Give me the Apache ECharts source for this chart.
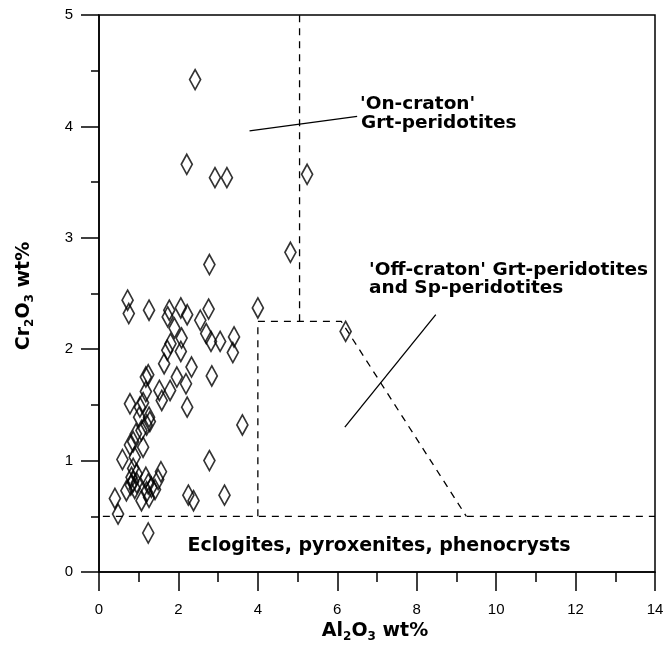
<!DOCTYPE html>
<html>
<head>
<meta charset="utf-8">
<script src="https://cdn.jsdelivr.net/npm/echarts@6/dist/echarts.min.js"></script>
<style>
  html, body { margin: 0; padding: 0; background: #fff; }
  #chart { width: 672px; height: 648px; }
</style>
</head>
<body>
<div id="chart"></div>
<script>
// Al2O3 (x) and Cr2O3 (y), wt%
const al2o3 = [
  2.42, 2.21, 2.92, 3.22, 5.24, 4.82, 2.78, 6.21,
  0.72, 0.75, 1.26, 1.77, 1.73, 2.06, 2.22, 2.76, 4.00, 2.55,
  1.90, 2.70, 2.82, 3.05, 3.40, 3.37, 2.08, 1.80, 1.72, 2.06,
  1.64, 2.33, 2.84, 1.96, 2.19, 1.18, 1.24, 1.18, 1.52, 1.58,
  1.79, 2.22, 0.78, 1.03, 1.11, 1.26, 1.28, 1.20, 1.01, 1.07,
  0.93, 3.61, 0.86, 0.78, 1.11,
  0.59, 0.90, 2.78, 0.86, 0.82, 0.86, 0.69, 0.90, 1.18, 1.24,
  1.32, 1.41, 1.56, 1.49, 1.07, 1.26, 1.20, 0.40, 0.48, 1.24,
  2.25, 2.38, 3.16, 0.95, 0.80, 0.95
];
const cr2o3 = [
  4.42, 3.66, 3.54, 3.54, 3.57, 2.87, 2.76, 2.16,
  2.44, 2.32, 2.35, 2.35, 2.29, 2.37, 2.31, 2.36, 2.37, 2.26,
  2.19, 2.14, 2.07, 2.07, 2.11, 1.97, 2.10, 2.05, 1.99, 1.98,
  1.87, 1.84, 1.76, 1.75, 1.69, 1.75, 1.77, 1.62, 1.63, 1.54,
  1.63, 1.48, 1.51, 1.48, 1.52, 1.39, 1.35, 1.32, 1.39, 1.27,
  1.24, 1.32, 1.17, 1.14, 1.12,
  1.01, 1.03, 1.00, 0.93, 0.85, 0.81, 0.73, 0.75, 0.85, 0.79,
  0.76, 0.74, 0.90, 0.83, 0.64, 0.67, 0.72, 0.66, 0.52, 0.35,
  0.69, 0.64, 0.69, 0.80, 0.78, 0.88
];

// field boundaries (dashed)
const eclogiteLimit = [[-0.23, 0.5], [14, 0.5]];
const offCratonField = [[4, 0.5], [4, 2.25], [6.1, 2.25], [9.25, 0.5]];
const onCratonLimit = [[5.05, 2.25], [5.05, 5]];
// label leader lines (solid)
const onCratonLeader = [[3.79, 3.96], [6.5, 4.09]];
const offCratonLeader = [[6.19, 1.3], [8.48, 2.31]];

const points = al2o3.map((x, i) => [x, cr2o3[i]]);

const tickFont = "'Liberation Sans Narrow', 'Liberation Sans', Arial, sans-serif";
const boldFont = "'DejaVu Sans', 'Liberation Sans', sans-serif";

const myChart = echarts.init(document.getElementById('chart'));

const dashed = (data, clip) => ({
  type: 'line',
  data: data,
  symbol: 'none',
  silent: true,
  clip: clip,
  lineStyle: { color: '#000', width: 1.3, type: [7, 6] },
});

const leader = (data) => ({
  type: 'line',
  data: data,
  symbol: 'none',
  silent: true,
  lineStyle: { color: '#000', width: 1.3 },
});

const titleRich = {
  a: { fontFamily: boldFont, fontWeight: 'bold', fontSize: 19, lineHeight: 24, color: '#000' },
  s: { fontFamily: boldFont, fontWeight: 'bold', fontSize: 12, lineHeight: 9, verticalAlign: 'bottom', color: '#000' },
};

const label = (x, y, text, size, align) => ({
  type: 'text',
  x: x,
  y: y,
  style: { text: text, font: 'bold ' + size + 'px ' + boldFont, fill: '#000', align: align || 'left', verticalAlign: 'middle' },
});

const option = {
  animation: false,
  backgroundColor: '#fff',
  grid: {
    left: 99,
    right: 17,
    top: 15,
    bottom: 76,
    show: true,
    borderColor: '#000',
    borderWidth: 1.5,
  },
  xAxis: {
    type: 'value',
    min: 0,
    max: 14,
    interval: 2,
    axisLine: { onZero: false, lineStyle: { color: '#000', width: 1.5 } },
    axisTick: { length: 19, lineStyle: { color: '#000', width: 1.5 } },
    minorTick: { show: true, splitNumber: 2, length: 10, lineStyle: { color: '#000', width: 1.5 } },
    splitLine: { show: false },
    axisLabel: { margin: 30, fontSize: 15, color: '#000', fontFamily: tickFont },
  },
  yAxis: {
    type: 'value',
    min: 0,
    max: 5,
    interval: 1,
    axisLine: { onZero: false, lineStyle: { color: '#000', width: 1.5 } },
    axisTick: { length: 18, lineStyle: { color: '#000', width: 1.5 } },
    minorTick: { show: true, splitNumber: 2, length: 8, lineStyle: { color: '#000', width: 1.5 } },
    splitLine: { show: false },
    axisLabel: { margin: 26, fontSize: 15, color: '#000', fontFamily: tickFont },
  },
  series: [
    dashed(eclogiteLimit, false),
    dashed(offCratonField, true),
    dashed(onCratonLimit, true),
    leader(onCratonLeader),
    leader(offCratonLeader),
    {
      type: 'scatter',
      data: points,
      symbol: 'diamond',
      symbolSize: [11, 20],
      silent: true,
      itemStyle: { color: 'rgba(255,255,255,0)', borderColor: '#000', borderWidth: 1.8 },
      z: 5,
    },
  ],
  graphic: [
    label(360, 104, "'On-craton'", 18.5),
    label(361, 123, 'Grt-peridotites', 18.5),
    label(369, 270, "'Off-craton' Grt-peridotites", 18.5),
    label(369, 288, 'and Sp-peridotites', 18.5),
    label(379, 546, 'Eclogites, pyroxenites, phenocrysts', 19, 'center'),
    {
      type: 'text', x: 375, y: 631,
      style: { text: '{a|Al}{s|2}{a|O}{s|3}{a| wt%}', rich: titleRich, align: 'center', verticalAlign: 'middle' },
    },
    {
      type: 'text', x: 24, y: 296, rotation: Math.PI / 2,
      style: { text: '{a|Cr}{s|2}{a|O}{s|3}{a| wt%}', rich: titleRich, align: 'center', verticalAlign: 'middle' },
    },
  ],
};

myChart.setOption(option);
</script>
</body>
</html>
